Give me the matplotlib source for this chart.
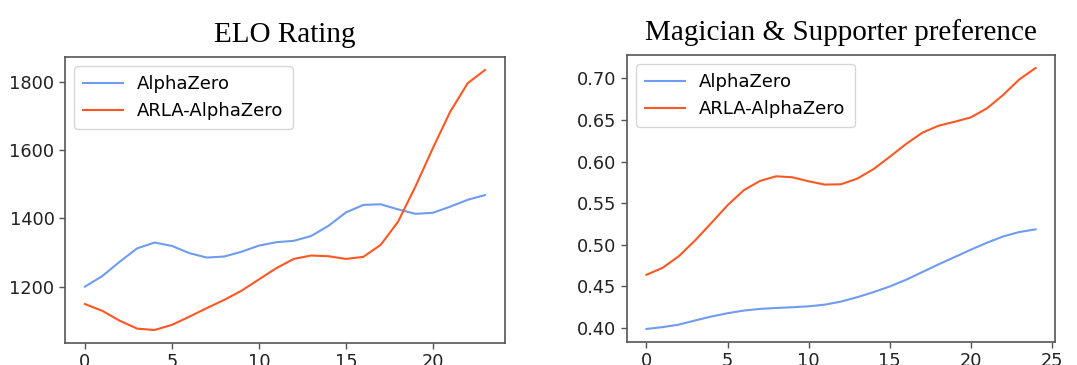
import matplotlib
matplotlib.use('Agg')
import matplotlib.pyplot as plt

# ELO rating per checkpoint
elo_alphazero = [1200, 1231, 1273, 1312, 1329, 1319, 1298, 1285, 1288, 1302, 1320, 1330,
                 1334, 1348, 1378, 1417, 1439, 1441, 1426, 1413, 1416, 1434, 1454, 1468]
elo_arla = [1149, 1129, 1100, 1077, 1073, 1088, 1112, 1137, 1161, 1188, 1221, 1254,
            1281, 1291, 1289, 1281, 1287, 1322, 1390, 1493, 1605, 1712, 1795, 1834]

# magician & supporter preference per checkpoint
pref_alphazero = [0.3988, 0.401, 0.404, 0.409, 0.4137, 0.4177, 0.4209, 0.4229, 0.424, 0.4249,
                  0.426, 0.428, 0.4317, 0.437, 0.443, 0.4498, 0.4578, 0.467, 0.4763, 0.4851,
                  0.494, 0.5024, 0.51, 0.5153, 0.5185]
pref_arla = [0.4639, 0.4723, 0.4863, 0.5052, 0.5261, 0.5474, 0.5655, 0.5767, 0.5823, 0.5811,
             0.5763, 0.5723, 0.5727, 0.5795, 0.5908, 0.6056, 0.6209, 0.6345, 0.643, 0.6478,
             0.653, 0.6639, 0.68, 0.6988, 0.7124]

labels = ['AlphaZero', 'ARLA-AlphaZero']
titles = ['ELO Rating', 'Magician & Supporter preference']
blue = '#6f9cf0'
orange = '#ff5722'

fig = plt.figure(figsize=(10.77, 3.65), dpi=100)
ax1 = fig.add_axes([65/1077, 1 - 343/365, 440/1077, 286/365])
ax2 = fig.add_axes([627/1077, 1 - 342/365, 428/1077, 287/365])

for ax, a, b, t in [(ax1, elo_alphazero, elo_arla, titles[0]),
                    (ax2, pref_alphazero, pref_arla, titles[1])]:
    ax.plot(range(len(a)), a, color=blue, lw=1.5, label=labels[0])
    ax.plot(range(len(b)), b, color=orange, lw=1.5, label=labels[1])
    ax.set_title(t, fontsize=21, family='Liberation Serif', pad=11)
    ax.tick_params(labelsize=12.8, colors='#222222', length=4, width=1, color='#555555')
    for s in ax.spines.values():
        s.set_color('#555555')
        s.set_linewidth(1.2)
    ax.legend(loc='upper left', fontsize=13, handlelength=2.2, borderpad=0.5)

ax1.set_yticks([1200, 1400, 1600, 1800])
ax2.set_yticks([0.40, 0.45, 0.50, 0.55, 0.60, 0.65, 0.70])

plt.savefig('out.png', dpi=100)
